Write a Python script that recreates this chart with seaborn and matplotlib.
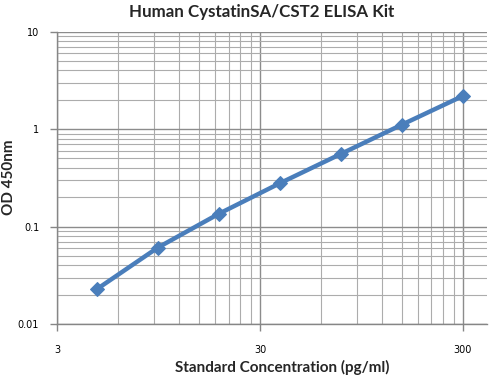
import matplotlib
matplotlib.use("Agg")
import matplotlib.pyplot as plt
import matplotlib.ticker as mticker
import seaborn as sns
import pandas as pd
import numpy as np

conc = [4.69, 9.38, 18.75, 37.5, 75, 150, 300]
od = [0.0227, 0.0607, 0.135, 0.278, 0.556, 1.11, 2.19]
x_ticks = [3, 30, 300]
x_tick_labels = ["3", "30", "300"]
y_ticks = [0.01, 0.1, 1, 10]
y_tick_labels = ["0.01", "0.1", "1", "10"]

df = pd.DataFrame({"conc": conc, "od": od})

sns.set_theme(style="white")
plt.rcParams['font.family'] = ['DejaVu Sans']

fig = plt.figure(figsize=(5.03, 3.79), dpi=100)
ax = fig.add_axes([57.3/503, 1-324/379, (487.3-57.3)/503, (324-31.7)/379])

ax.set_xscale("log")
ax.set_yscale("log")
ax.set_xlim(3, 396)
ax.set_ylim(0.01, 10)

# grid lines (Excel style: minor at multiples of 3 per decade on x)
xminor = [3*m*10**d for d in range(0, 3) for m in range(2, 10)]
xminor = [v for v in xminor if v < 396]
ax.xaxis.set_major_locator(mticker.FixedLocator(x_ticks))
ax.xaxis.set_minor_locator(mticker.FixedLocator(xminor))
ax.yaxis.set_major_locator(mticker.FixedLocator(y_ticks))
ax.yaxis.set_minor_locator(mticker.LogLocator(base=10, subs=np.arange(2, 10)))
ax.xaxis.set_major_formatter(mticker.FixedFormatter(x_tick_labels))
ax.yaxis.set_major_formatter(mticker.FixedFormatter(y_tick_labels))
ax.xaxis.set_minor_formatter(mticker.NullFormatter())
ax.yaxis.set_minor_formatter(mticker.NullFormatter())

ax.grid(True, which="major", color="#8c8c8c", linewidth=1.0)
ax.grid(True, which="minor", color="#acacac", linewidth=0.8)
ax.set_axisbelow(True)

sns.lineplot(data=df, x="conc", y="od", ax=ax, color="#4a7ebb", linewidth=3.2,
             marker="D", markersize=7, markeredgecolor="#4a7ebb", zorder=5)

for s in ["top", "right"]:
    ax.spines[s].set_visible(False)
for s in ["left", "bottom"]:
    ax.spines[s].set_color("#868686")
    ax.spines[s].set_linewidth(1.0)

ax.tick_params(axis="both", which="major", length=5, width=1, color="#868686",
               labelsize=7, labelcolor="black", pad=8, direction="out",
               left=True, bottom=True)
ax.tick_params(axis="x", which="major", pad=10)
ax.tick_params(axis="both", which="minor", length=0)

ax.set_xlabel("")
ax.set_ylabel("")
fig.text(262/503, 1-12/379, "Human CystatinSA/CST2 ELISA Kit", ha="center", va="center",
         fontsize=12.2, fontweight="bold", family="Lato")
fig.text(282/503, 1-367/379, "Standard Concentration (pg/ml)", ha="center", va="center",
         fontsize=11, fontweight="bold", family="Lato")
fig.text(9/503, 1-177/379, "OD 450nm", ha="center", va="center", rotation=90,
         fontsize=11, fontweight="bold", family="Lato")

fig.savefig("out.png", dpi=100, facecolor="white")
